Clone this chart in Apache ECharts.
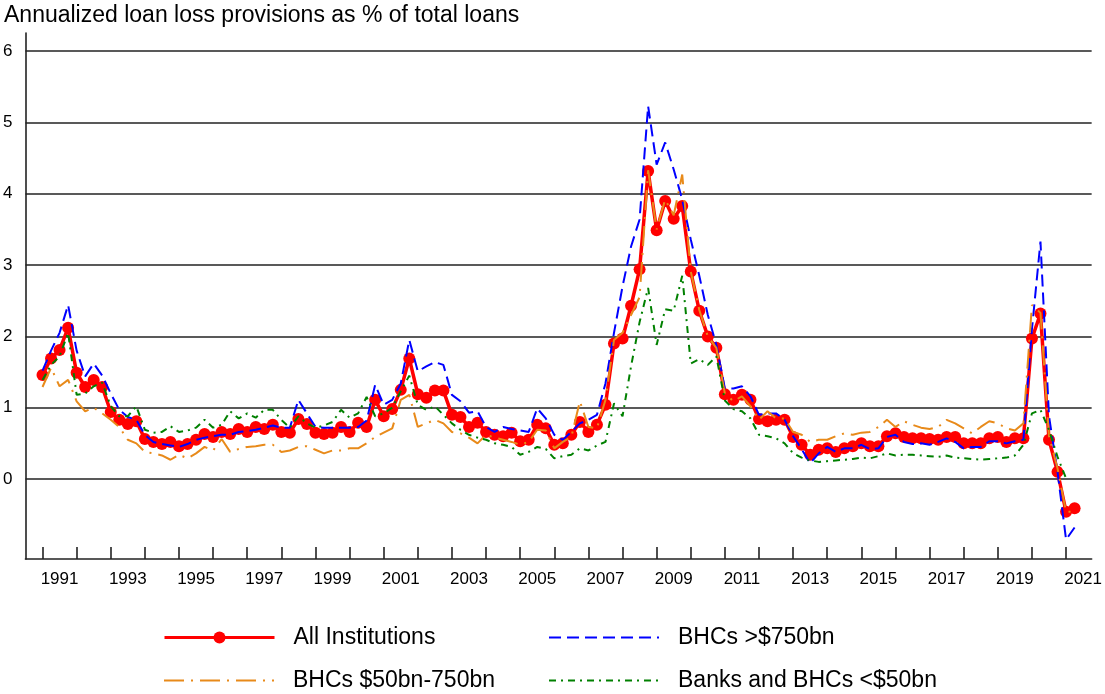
<!DOCTYPE html>
<html>
<head>
<meta charset="utf-8">
<script src="https://cdn.jsdelivr.net/npm/echarts@6/dist/echarts.min.js"></script>
<style>html,body{margin:0;padding:0;background:#fff}#c{width:1105px;height:694px}</style>
</head>
<body>
<div id="c"></div>
<script>
const titleText = 'Annualized loan loss provisions as % of total loans';
// x-axis spans 1990Q3 .. 2021Q4; data runs 1991Q1 .. 2021Q2
const axisStart = [1990, 3];
const axisCount = 126;
const dataStart = [1991, 1];
const yGridValues = [0, 1, 2, 3, 4, 5, 6];

const allInstitutions = [
  1.46,1.69,1.81,2.12,1.49,1.29,1.39,1.29,0.94,0.83,0.77,0.81,
  0.56,0.52,0.49,0.52,0.46,0.49,0.55,0.63,0.59,0.66,0.63,0.70,
  0.66,0.73,0.70,0.76,0.66,0.65,0.84,0.77,0.65,0.63,0.65,0.73,
  0.66,0.79,0.73,1.11,0.88,0.98,1.25,1.69,1.19,1.14,1.24,1.24,
  0.90,0.87,0.73,0.79,0.66,0.62,0.60,0.65,0.53,0.55,0.76,0.71,
  0.48,0.50,0.62,0.80,0.66,0.76,1.04,1.90,1.97,2.43,2.94,4.32,
  3.49,3.90,3.65,3.83,2.91,2.36,2.00,1.84,1.19,1.11,1.18,1.11,
  0.84,0.81,0.83,0.83,0.59,0.48,0.34,0.41,0.43,0.38,0.43,0.46,
  0.50,0.46,0.46,0.60,0.64,0.59,0.57,0.57,0.56,0.55,0.59,0.59,
  0.50,0.50,0.50,0.57,0.59,0.52,0.57,0.57,1.97,2.32,0.55,0.10,
  -0.46,-0.41
];
const bhcOver750 = [
  1.52,1.80,2.05,2.44,1.80,1.44,1.62,1.45,1.20,0.97,0.87,0.83,
  0.62,0.52,0.49,0.47,0.45,0.49,0.55,0.58,0.60,0.62,0.62,0.66,
  0.67,0.69,0.72,0.75,0.72,0.72,1.11,0.92,0.73,0.72,0.72,0.72,
  0.72,0.73,0.82,1.32,1.04,1.11,1.34,1.95,1.51,1.58,1.64,1.60,
  1.18,1.09,0.93,0.95,0.73,0.66,0.73,0.70,0.68,0.66,0.99,0.85,
  0.62,0.55,0.66,0.78,0.83,0.90,1.34,2.05,2.70,3.26,3.64,5.23,
  4.41,4.72,4.34,3.92,3.36,2.85,2.30,1.88,1.27,1.27,1.30,1.16,
  0.90,0.92,0.92,0.83,0.60,0.42,0.22,0.36,0.45,0.38,0.43,0.43,
  0.48,0.42,0.43,0.59,0.62,0.52,0.49,0.50,0.48,0.52,0.57,0.52,
  0.43,0.45,0.45,0.53,0.53,0.50,0.53,0.55,2.10,3.33,0.88,0.10,
  -0.85,-0.68
];
const bhc50to750 = [
  1.29,1.56,1.30,1.39,1.09,0.95,1.00,0.92,0.83,0.73,0.55,0.50,
  0.38,0.36,0.33,0.27,0.34,0.29,0.36,0.45,0.40,0.56,0.38,0.42,
  0.45,0.46,0.48,0.48,0.38,0.40,0.45,0.46,0.41,0.36,0.40,0.40,
  0.43,0.43,0.50,0.59,0.65,0.71,1.11,1.18,0.73,0.78,0.83,0.78,
  0.66,0.64,0.58,0.50,0.62,0.58,0.55,0.52,0.48,0.52,0.69,0.68,
  0.43,0.52,0.59,1.09,0.73,0.71,1.11,1.95,2.05,2.30,2.55,4.33,
  3.50,3.92,3.70,4.27,2.91,2.37,2.00,1.84,1.20,1.09,1.16,1.02,
  0.83,0.95,0.85,0.85,0.66,0.62,0.52,0.55,0.55,0.60,0.64,0.62,
  0.65,0.66,0.73,0.83,0.73,0.81,0.76,0.72,0.70,0.73,0.83,0.78,
  0.71,0.64,0.73,0.81,0.78,0.71,0.68,0.78,2.44,2.33,0.60,0.15,
  -0.46,-0.46
];
const banksUnder50 = [
  1.39,1.60,1.72,2.05,1.18,1.20,1.30,1.35,1.02,0.88,0.88,1.02,
  0.69,0.65,0.66,0.74,0.66,0.68,0.72,0.83,0.72,0.76,0.95,0.85,
  0.92,0.86,0.97,0.97,0.83,0.72,0.88,0.78,0.72,0.75,0.80,0.97,
  0.86,0.92,1.15,0.88,0.92,1.00,1.23,1.45,1.04,0.97,1.02,0.90,
  0.78,0.69,0.62,0.58,0.55,0.50,0.48,0.45,0.34,0.38,0.45,0.42,
  0.29,0.32,0.34,0.43,0.40,0.47,0.52,1.06,0.88,1.58,2.20,2.68,
  1.88,2.38,2.36,2.85,1.62,1.68,1.60,1.72,1.10,0.98,0.95,0.85,
  0.62,0.60,0.57,0.50,0.36,0.30,0.26,0.24,0.25,0.26,0.27,0.28,
  0.30,0.29,0.32,0.36,0.33,0.34,0.34,0.33,0.32,0.31,0.33,0.30,
  0.29,0.28,0.27,0.28,0.29,0.30,0.33,0.48,0.92,0.97,0.69,0.31,
  0.01,null
];

function quarterLabels(start, n) {
  const out = [];
  let y = start[0], q = start[1];
  for (let i = 0; i < n; i++) {
    out.push(y + 'Q' + q);
    q++; if (q > 4) { q = 1; y++; }
  }
  return out;
}
const categories = quarterLabels(axisStart, axisCount);
function pairs(vals) {
  const qs = quarterLabels(dataStart, vals.length);
  return vals.map((v, i) => [qs[i], v]);
}

const FONT = "'Liberation Sans', Arial, sans-serif";
const chart = echarts.init(document.getElementById('c'), null, {renderer: 'canvas'});

function legendAt(name, left, top, withSymbol, lineWidth) {
  return {
    data: [name], left: left, top: top, padding: 0,
    itemWidth: 110, itemHeight: 15, selectedMode: false,
    itemStyle: withSymbol ? {} : {opacity: 0},
    lineStyle: {width: lineWidth},
    textStyle: {fontFamily: FONT, fontSize: 23, color: '#000', padding: [0, 0, 0, 14]}
  };
}

chart.setOption({
  animation: false,
  backgroundColor: '#fff',
  title: {
    text: titleText, left: 4, top: 4, padding: 0,
    textStyle: {fontFamily: FONT, fontSize: 23, fontWeight: 'normal', color: '#000'}
  },
  legend: [
    legendAt('All Institutions', 163, 626, true, 3),
    legendAt('BHCs >$750bn', 548, 626, false, 2),
    legendAt('BHCs $50bn-750bn', 163, 669, false, 2),
    legendAt('Banks and BHCs <$50bn', 548, 669, false, 2)
  ],
  grid: {left: 22, right: 8, top: 33, bottom: 135, containLabel: false},
  xAxis: {
    type: 'category', data: categories, boundaryGap: false,
    axisLine: {onZero: false, lineStyle: {color: '#222', width: 1.6}},
    axisTick: {inside: true, length: 12, lineStyle: {color: '#222', width: 1.6},
      interval: (idx, val) => val.endsWith('Q1')},
    axisLabel: {
      interval: (idx, val) => val.endsWith('Q3') && (parseInt(val.slice(0, 4)) % 2 === 1),
      formatter: v => v.slice(0, 4), margin: 12, hideOverlap: false,
      fontFamily: FONT, fontSize: 17, color: '#000'
    },
    splitLine: {show: false}
  },
  yAxis: {
    type: 'value', min: -1.122, max: 6.255, splitNumber: 7,
    axisLine: {show: true, lineStyle: {color: '#222', width: 1.6}},
    axisTick: {show: false},
    splitLine: {show: false},
    axisLabel: {
      margin: 13, fontFamily: FONT, fontSize: 17, color: '#000',
      formatter: v => (Math.abs(v - Math.round(v)) < 1e-6 && Math.round(v) >= 0) ? String(Math.round(v)) : ''
    }
  },
  series: [
    {
      name: 'All Institutions', type: 'line', data: pairs(allInstitutions),
      symbol: 'circle', symbolSize: 12, showSymbol: true, showAllSymbol: true,
      lineStyle: {color: '#ff0000', width: 3.5}, itemStyle: {color: '#ff0000'},
      z: 2,
      markLine: {
        silent: true, z: 1, symbol: ['none', 'none'], label: {show: false},
        lineStyle: {color: '#222', width: 1.6, type: 'solid'},
        data: yGridValues.map(v => ({yAxis: v}))
      }
    },
    {
      name: 'BHCs >$750bn', type: 'line', data: pairs(bhcOver750), symbol: 'none',
      lineStyle: {color: '#0000ff', width: 2, type: [12, 6]}, itemStyle: {color: '#0000ff'}, z: 3
    },
    {
      name: 'BHCs $50bn-750bn', type: 'line', data: pairs(bhc50to750), symbol: 'none',
      lineStyle: {color: '#e88a1a', width: 2, type: [20, 7, 2, 7]}, itemStyle: {color: '#e88a1a'}, z: 4
    },
    {
      name: 'Banks and BHCs <$50bn', type: 'line', data: pairs(banksUnder50), symbol: 'none',
      lineStyle: {color: '#008000', width: 2, type: [7, 5, 2, 5]}, itemStyle: {color: '#008000'}, z: 4
    }
  ]
});
</script>
</body>
</html>
